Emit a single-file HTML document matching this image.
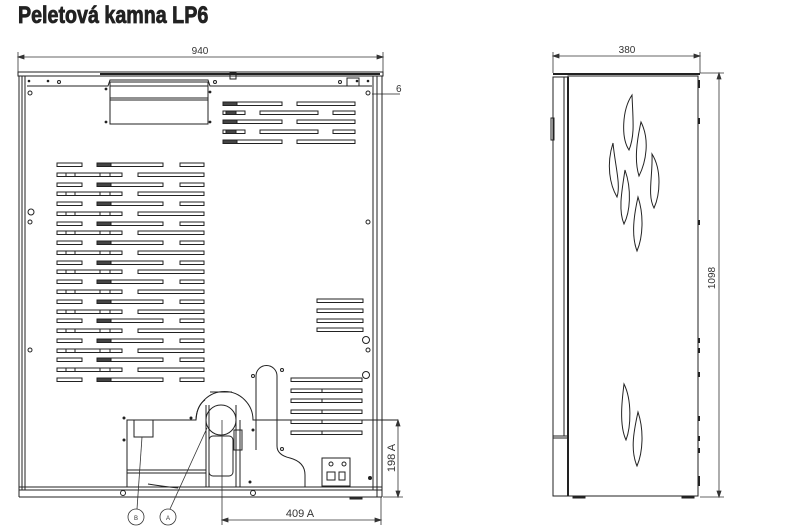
<!DOCTYPE html>
<html><head><meta charset="utf-8"><style>
html,body{margin:0;padding:0;background:#fff;}
svg{display:block;}
text{font-family:"Liberation Sans",sans-serif;fill:#333;}
</style></head><body>
<svg width="801" height="532" viewBox="0 0 801 532" xmlns="http://www.w3.org/2000/svg">
<defs>
<g id="rA" fill="none" stroke="#222" stroke-width="1">
<rect x="57" y="0" width="25" height="3.5"/><rect x="97" y="0" width="66" height="3.5"/><rect x="180" y="0" width="24" height="3.5"/>
<rect x="97" y="0" width="14" height="3.5" fill="#444"/>
</g>
<g id="rB" fill="none" stroke="#222" stroke-width="1">
<rect x="57" y="0" width="65" height="3.5"/><rect x="138" y="0" width="66" height="3.5"/>
<line x1="66" y1="0" x2="66" y2="3.5"/><line x1="75" y1="0" x2="75" y2="3.5"/><line x1="100" y1="0" x2="100" y2="3.5"/><line x1="110" y1="0" x2="110" y2="3.5"/>
</g>
<g id="uA" fill="none" stroke="#222" stroke-width="1"><rect x="223" y="0" width="59" height="3.5"/><rect x="297" y="0" width="58" height="3.5"/><rect x="223" y="0" width="14" height="3.5" fill="#444"/></g>
<g id="uB" fill="none" stroke="#222" stroke-width="1"><rect x="223" y="0" width="22" height="3.5"/><rect x="260" y="0" width="58" height="3.5"/><rect x="333" y="0" width="22" height="3.5"/><rect x="226" y="0" width="10" height="3.5" fill="#444"/></g>
</defs>

<text x="0" y="0" font-size="24" font-weight="bold" style="fill:#222;stroke:#222;stroke-width:0.8" transform="translate(18,23) scale(0.82,1)">Peletová kamna LP6</text>

<!-- FRONT VIEW -->
<g stroke="#333" stroke-width="0.8" fill="none">
<line x1="18" y1="52" x2="18" y2="75"/><line x1="383" y1="52" x2="383" y2="75"/>
<line x1="18" y1="57" x2="383" y2="57"/>
<path d="M18 57 l6 -2 v4z M383 57 l-6 -2 v4z" fill="#333"/>
</g>
<text x="200" y="54" font-size="10" text-anchor="middle">940</text>

<g stroke="#222" fill="none" stroke-width="1">
<rect x="18" y="72" width="365" height="4"/>
<line x1="100" y1="74" x2="380" y2="74" stroke-width="2"/>
<line x1="19" y1="76" x2="19" y2="497"/><line x1="22" y1="76" x2="22" y2="490"/><line x1="25" y1="76" x2="25" y2="490"/>
<line x1="373" y1="76" x2="373" y2="490"/><line x1="377" y1="76" x2="377" y2="497"/><line x1="382" y1="76" x2="382" y2="497"/>
<path d="M27 86 H108 L110 80 H208 L210 86 H372"/>
<rect x="110" y="82" width="98" height="42"/>
<line x1="110" y1="86" x2="208" y2="86"/><line x1="110" y1="98" x2="208" y2="98"/><line x1="110" y1="100" x2="208" y2="100"/>
<rect x="230" y="73" width="6" height="6"/>
<rect x="347" y="78" width="12" height="8"/>
<circle cx="30" cy="93" r="2"/><circle cx="368" cy="93" r="2"/>
<circle cx="30" cy="222" r="2"/><circle cx="368" cy="222" r="2"/>
<circle cx="31" cy="212" r="3"/>
<circle cx="30" cy="350" r="2"/><circle cx="368" cy="350" r="2"/>
<circle cx="366" cy="340" r="3.5"/><circle cx="366" cy="375" r="3.5"/>
<circle cx="59" cy="82" r="1.5"/><circle cx="215" cy="82" r="1.5"/><circle cx="340" cy="82" r="1.5"/>
<line x1="372" y1="94" x2="400" y2="94" stroke-width="0.7"/>
</g>
<text x="396" y="92" font-size="10">6</text>
<g fill="#222"><circle cx="106" cy="89" r="1.4"/><circle cx="210" cy="92" r="1.4"/><circle cx="106" cy="122" r="1.4"/><circle cx="210" cy="122" r="1.4"/><circle cx="29" cy="81" r="1.3"/><circle cx="48" cy="81" r="1.3"/><circle cx="357" cy="81" r="1.3"/><circle cx="368" cy="81" r="1.3"/></g>

<use href="#uA" y="102"/><use href="#uB" y="111"/><use href="#uA" y="120"/><use href="#uB" y="130"/><use href="#uA" y="140"/>

<use href="#rA" y="163"/><use href="#rB" y="173"/><use href="#rA" y="183"/><use href="#rB" y="192"/>
<use href="#rA" y="202"/><use href="#rB" y="212"/><use href="#rA" y="222"/><use href="#rB" y="231"/>
<use href="#rA" y="241"/><use href="#rB" y="251"/><use href="#rA" y="261"/><use href="#rB" y="270"/>
<use href="#rA" y="280"/><use href="#rB" y="290"/><use href="#rA" y="300"/><use href="#rB" y="310"/>
<use href="#rA" y="319"/><use href="#rB" y="329"/><use href="#rA" y="339"/><use href="#rB" y="349"/>
<use href="#rA" y="358"/><use href="#rB" y="368"/><use href="#rA" y="378"/>

<g stroke="#222" fill="none" stroke-width="1">
<rect x="317" y="299" width="46" height="3.5"/><rect x="317" y="309" width="46" height="3.5"/><rect x="317" y="319" width="46" height="3.5"/><rect x="317" y="328" width="46" height="3.5"/>
<rect x="291" y="378" width="71" height="3.5"/><rect x="291" y="389" width="71" height="3.5"/><rect x="291" y="399" width="71" height="3.5"/><rect x="291" y="410" width="71" height="3.5"/><rect x="291" y="420" width="71" height="3.5"/><rect x="291" y="431" width="71" height="3.5"/>
<line x1="322" y1="389" x2="322" y2="392"/><line x1="322" y1="399" x2="322" y2="402"/><line x1="322" y1="410" x2="322" y2="413"/><line x1="322" y1="420" x2="322" y2="423"/><line x1="322" y1="431" x2="322" y2="434"/>

<path d="M256 450 V376 A10.5 10.5 0 0 1 277 376 V446 Q277 455 290 458 Q305 462 305 475 V487"/>
<circle cx="253" cy="376" r="1.5"/><circle cx="282" cy="370" r="1.5"/><circle cx="282" cy="449" r="1.5"/>

<path d="M127 487 V420 H196 A28 28 0 0 1 253 420 H398"/>
<path d="M196 420 Q197 405 205 400" />
<circle cx="221" cy="420" r="15"/>
<rect x="209" y="436" width="24" height="40" rx="4"/>
<line x1="206" y1="405" x2="206" y2="487"/><line x1="209" y1="405" x2="209" y2="487"/>
<line x1="236" y1="405" x2="236" y2="487"/><line x1="240" y1="420" x2="240" y2="487"/>
<rect x="234" y="430" width="8" height="20"/>
<line x1="210" y1="392" x2="232" y2="392"/>
<rect x="134" y="420" width="19" height="17"/>
<line x1="127" y1="470" x2="206" y2="470"/><line x1="127" y1="473" x2="206" y2="473"/>
<path d="M148 484 Q160 486 178 488"/>

<rect x="322" y="458" width="28" height="28"/>
<rect x="327" y="472" width="8" height="8"/><rect x="339" y="472" width="6" height="8"/>
<circle cx="331" cy="464" r="2"/><circle cx="344" cy="464" r="2"/>

<line x1="19" y1="487" x2="382" y2="487"/><line x1="19" y1="490" x2="382" y2="490"/><line x1="19" y1="497" x2="382" y2="497"/>
<rect x="350" y="497" width="12" height="2" fill="#333"/>
</g>
<g fill="#222"><circle cx="124" cy="418" r="1.5"/><circle cx="191" cy="418" r="1.5"/><circle cx="124" cy="440" r="1.5"/><circle cx="253" cy="430" r="1.5"/><circle cx="370" cy="478" r="2"/><circle cx="250" cy="482" r="1.5"/></g>
<g fill="none" stroke="#222"><circle cx="123" cy="493" r="2.5"/><circle cx="253" cy="493" r="2.5"/></g>

<g stroke="#333" stroke-width="0.8" fill="none">
<line x1="398" y1="420" x2="398" y2="497"/>
<line x1="383" y1="497" x2="403" y2="497"/>
<path d="M398 420 l-2 6 h4z M398 497 l-2 -6 h4z" fill="#333"/>
<line x1="222" y1="420" x2="222" y2="525"/>
<line x1="381" y1="497" x2="381" y2="525"/>
<line x1="222" y1="520" x2="381" y2="520"/>
<path d="M222 520 l6 -2 v4z M381 520 l-6 -2 v4z" fill="#333"/>
<circle cx="136" cy="517" r="8"/><circle cx="168" cy="517" r="8"/>
<line x1="137" y1="509" x2="142" y2="437"/>
<line x1="170" y1="509" x2="207" y2="428"/>
</g>
<text x="0" y="0" font-size="11" text-anchor="middle" transform="translate(395,458) rotate(-90)">198 A</text>
<text x="300" y="517" font-size="11" text-anchor="middle">409 A</text>
<text x="136" y="520" font-size="6" text-anchor="middle">B</text>
<text x="168" y="520" font-size="6" text-anchor="middle">A</text>

<!-- SIDE VIEW -->
<g stroke="#333" stroke-width="0.8" fill="none">
<line x1="553" y1="52" x2="553" y2="73"/><line x1="700" y1="52" x2="700" y2="73"/>
<line x1="553" y1="56" x2="700" y2="56"/>
<path d="M553 56 l6 -2 v4z M700 56 l-6 -2 v4z" fill="#333"/>
<line x1="700" y1="73" x2="724" y2="73"/><line x1="700" y1="497" x2="724" y2="497"/>
<line x1="719" y1="73" x2="719" y2="497"/>
<path d="M719 73 l-2 6 h4z M719 497 l-2 -6 h4z" fill="#333"/>
</g>
<text x="627" y="53" font-size="10" text-anchor="middle">380</text>
<text x="0" y="0" font-size="10" text-anchor="middle" transform="translate(715,278) rotate(-90)">1098</text>
<g stroke="#222" fill="none" stroke-width="1">
<line x1="553" y1="74" x2="700" y2="74" stroke-width="2"/>
<rect x="553" y="77" width="15" height="419"/>
<line x1="564" y1="77" x2="564" y2="436"/>
<line x1="568" y1="77" x2="568" y2="496" stroke-width="2"/>
<rect x="568" y="76" width="130" height="420"/>
<line x1="553" y1="436" x2="568" y2="436"/><line x1="553" y1="438" x2="568" y2="438"/>
<rect x="551" y="118" width="3" height="22"/>
<rect x="573" y="496" width="12" height="2" fill="#222"/><rect x="682" y="496" width="12" height="2" fill="#222"/>
</g>
<g fill="#222"><rect x="698" y="80" width="2" height="8"/><rect x="698" y="118" width="2" height="6"/><rect x="698" y="220" width="2" height="5"/><rect x="698" y="338" width="2" height="5"/><rect x="698" y="348" width="2" height="5"/><rect x="698" y="372" width="2" height="5"/><rect x="698" y="416" width="2" height="5"/><rect x="698" y="436" width="2" height="5"/><rect x="698" y="448" width="2" height="5"/><rect x="698" y="476" width="2" height="10"/></g>
<g stroke="#222" fill="#fff" stroke-width="1">
<path d="M632 95 C622 110 621 138 629 150 C635 135 633 120 632 95Z"/>
<path d="M641 122 C650 140 646 162 639 176 C634 160 637 140 641 122Z"/>
<path d="M613 143 C606 165 610 185 617 197 C621 185 615 165 613 143Z"/>
<path d="M652 154 C662 170 660 195 654 208 C647 195 653 175 652 154Z"/>
<path d="M625 170 C632 190 630 212 624 224 C618 210 622 190 625 170Z"/>
<path d="M638 197 C644 215 643 237 637 251 C631 235 634 215 638 197Z"/>
<path d="M624 384 C632 400 631 427 626 440 C619 425 622 400 624 384Z"/>
<path d="M638 412 C644 430 643 452 637 466 C630 450 634 430 638 412Z"/>
</g>
</svg>
</body></html>
